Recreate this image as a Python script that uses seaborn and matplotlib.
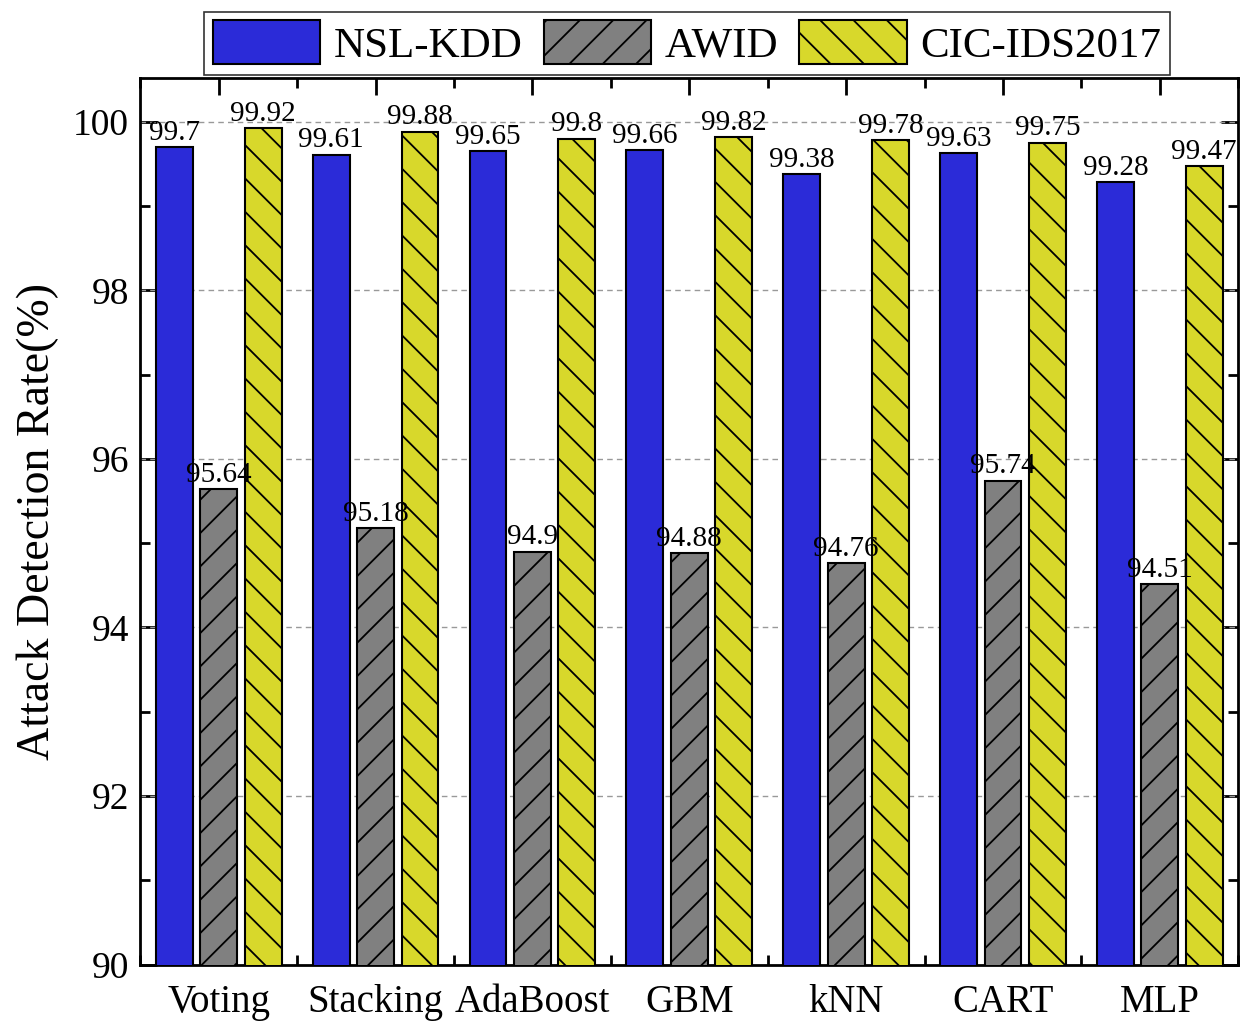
import pandas as pd
import numpy as np
import seaborn as sns
import matplotlib
matplotlib.use("Agg")
import matplotlib.pyplot as plt
from matplotlib.ticker import MultipleLocator

models = ["Voting", "Stacking", "AdaBoost", "GBM", "kNN", "CART", "MLP"]
datasets = ["NSL-KDD", "AWID", "CIC-IDS2017"]
nsl_kdd = [99.7, 99.61, 99.65, 99.66, 99.38, 99.63, 99.28]
awid = [95.64, 95.18, 94.9, 94.88, 94.76, 95.74, 94.51]
cic_ids = [99.92, 99.88, 99.8, 99.82, 99.78, 99.75, 99.47]
colors = ["#2b2bd8", "#808080", "#d8d82b"]
hatches = ["", "/", "\\"]

df = pd.DataFrame({"model": models * 3,
                   "dataset": [d for d in datasets for _ in models],
                   "rate": nsl_kdd + awid + cic_ids})

sns.set_style("ticks")
plt.rcParams["font.family"] = ["Liberation Serif", "DejaVu Serif"]
plt.rcParams["hatch.linewidth"] = 1.3
plt.rcParams["hatch.color"] = "black"
for k in ["text.color", "axes.labelcolor", "xtick.color", "ytick.color", "axes.edgecolor"]:
    plt.rcParams[k] = "black"

fig = plt.figure(figsize=(12.42, 10.25), dpi=100)
ax = fig.add_axes([0.113, 0.059, 0.884, 0.865])

sns.barplot(data=df, x="model", y="rate", hue="dataset", palette=colors,
            saturation=1, width=0.85, gap=0.17, edgecolor="black",
            linewidth=1.5, legend=False, ax=ax, zorder=3)

# hatches and value labels
for cont, h, vals in zip(ax.containers, hatches, [nsl_kdd, awid, cic_ids]):
    for p in cont:
        p.set_hatch(h)
    ax.bar_label(cont, labels=[str(v) for v in vals], fontsize=21, padding=1)

ax.set_ylim(90, 100.52)
ax.set_xlim(-0.5, 6.5)
ax.yaxis.set_major_locator(MultipleLocator(2))
ax.yaxis.set_minor_locator(MultipleLocator(1))
ax.xaxis.set_minor_locator(MultipleLocator(0.5))
for y in [92, 94, 96, 98, 100]:
    ax.axhline(y, color="#999999", ls=(0, (4, 3)), lw=1, zorder=1)

ax.tick_params(which="both", direction="in", top=True, right=True, width=2)
ax.tick_params(which="major", length=12, pad=8)
ax.tick_params(axis="x", which="major", labelsize=28, pad=14)
ax.tick_params(axis="y", which="major", labelsize=27)
ax.tick_params(which="minor", length=7)
for s in ax.spines.values():
    s.set_linewidth(2)
    s.set_visible(True)

ax.set_xlabel("")
ax.set_ylabel("Attack Detection Rate(%)", fontsize=33, labelpad=10)

leg = fig.legend(ax.containers, datasets, loc="upper center", ncol=3,
                 bbox_to_anchor=(0.553, 0.997), fontsize=31, frameon=True,
                 fancybox=False, edgecolor="black", handlelength=2.5,
                 handleheight=1.2, columnspacing=0.5, handletextpad=0.3,
                 borderpad=0.2, borderaxespad=0.2)
leg.get_frame().set_linewidth(1.2)

fig.savefig("out.png", dpi=100)
